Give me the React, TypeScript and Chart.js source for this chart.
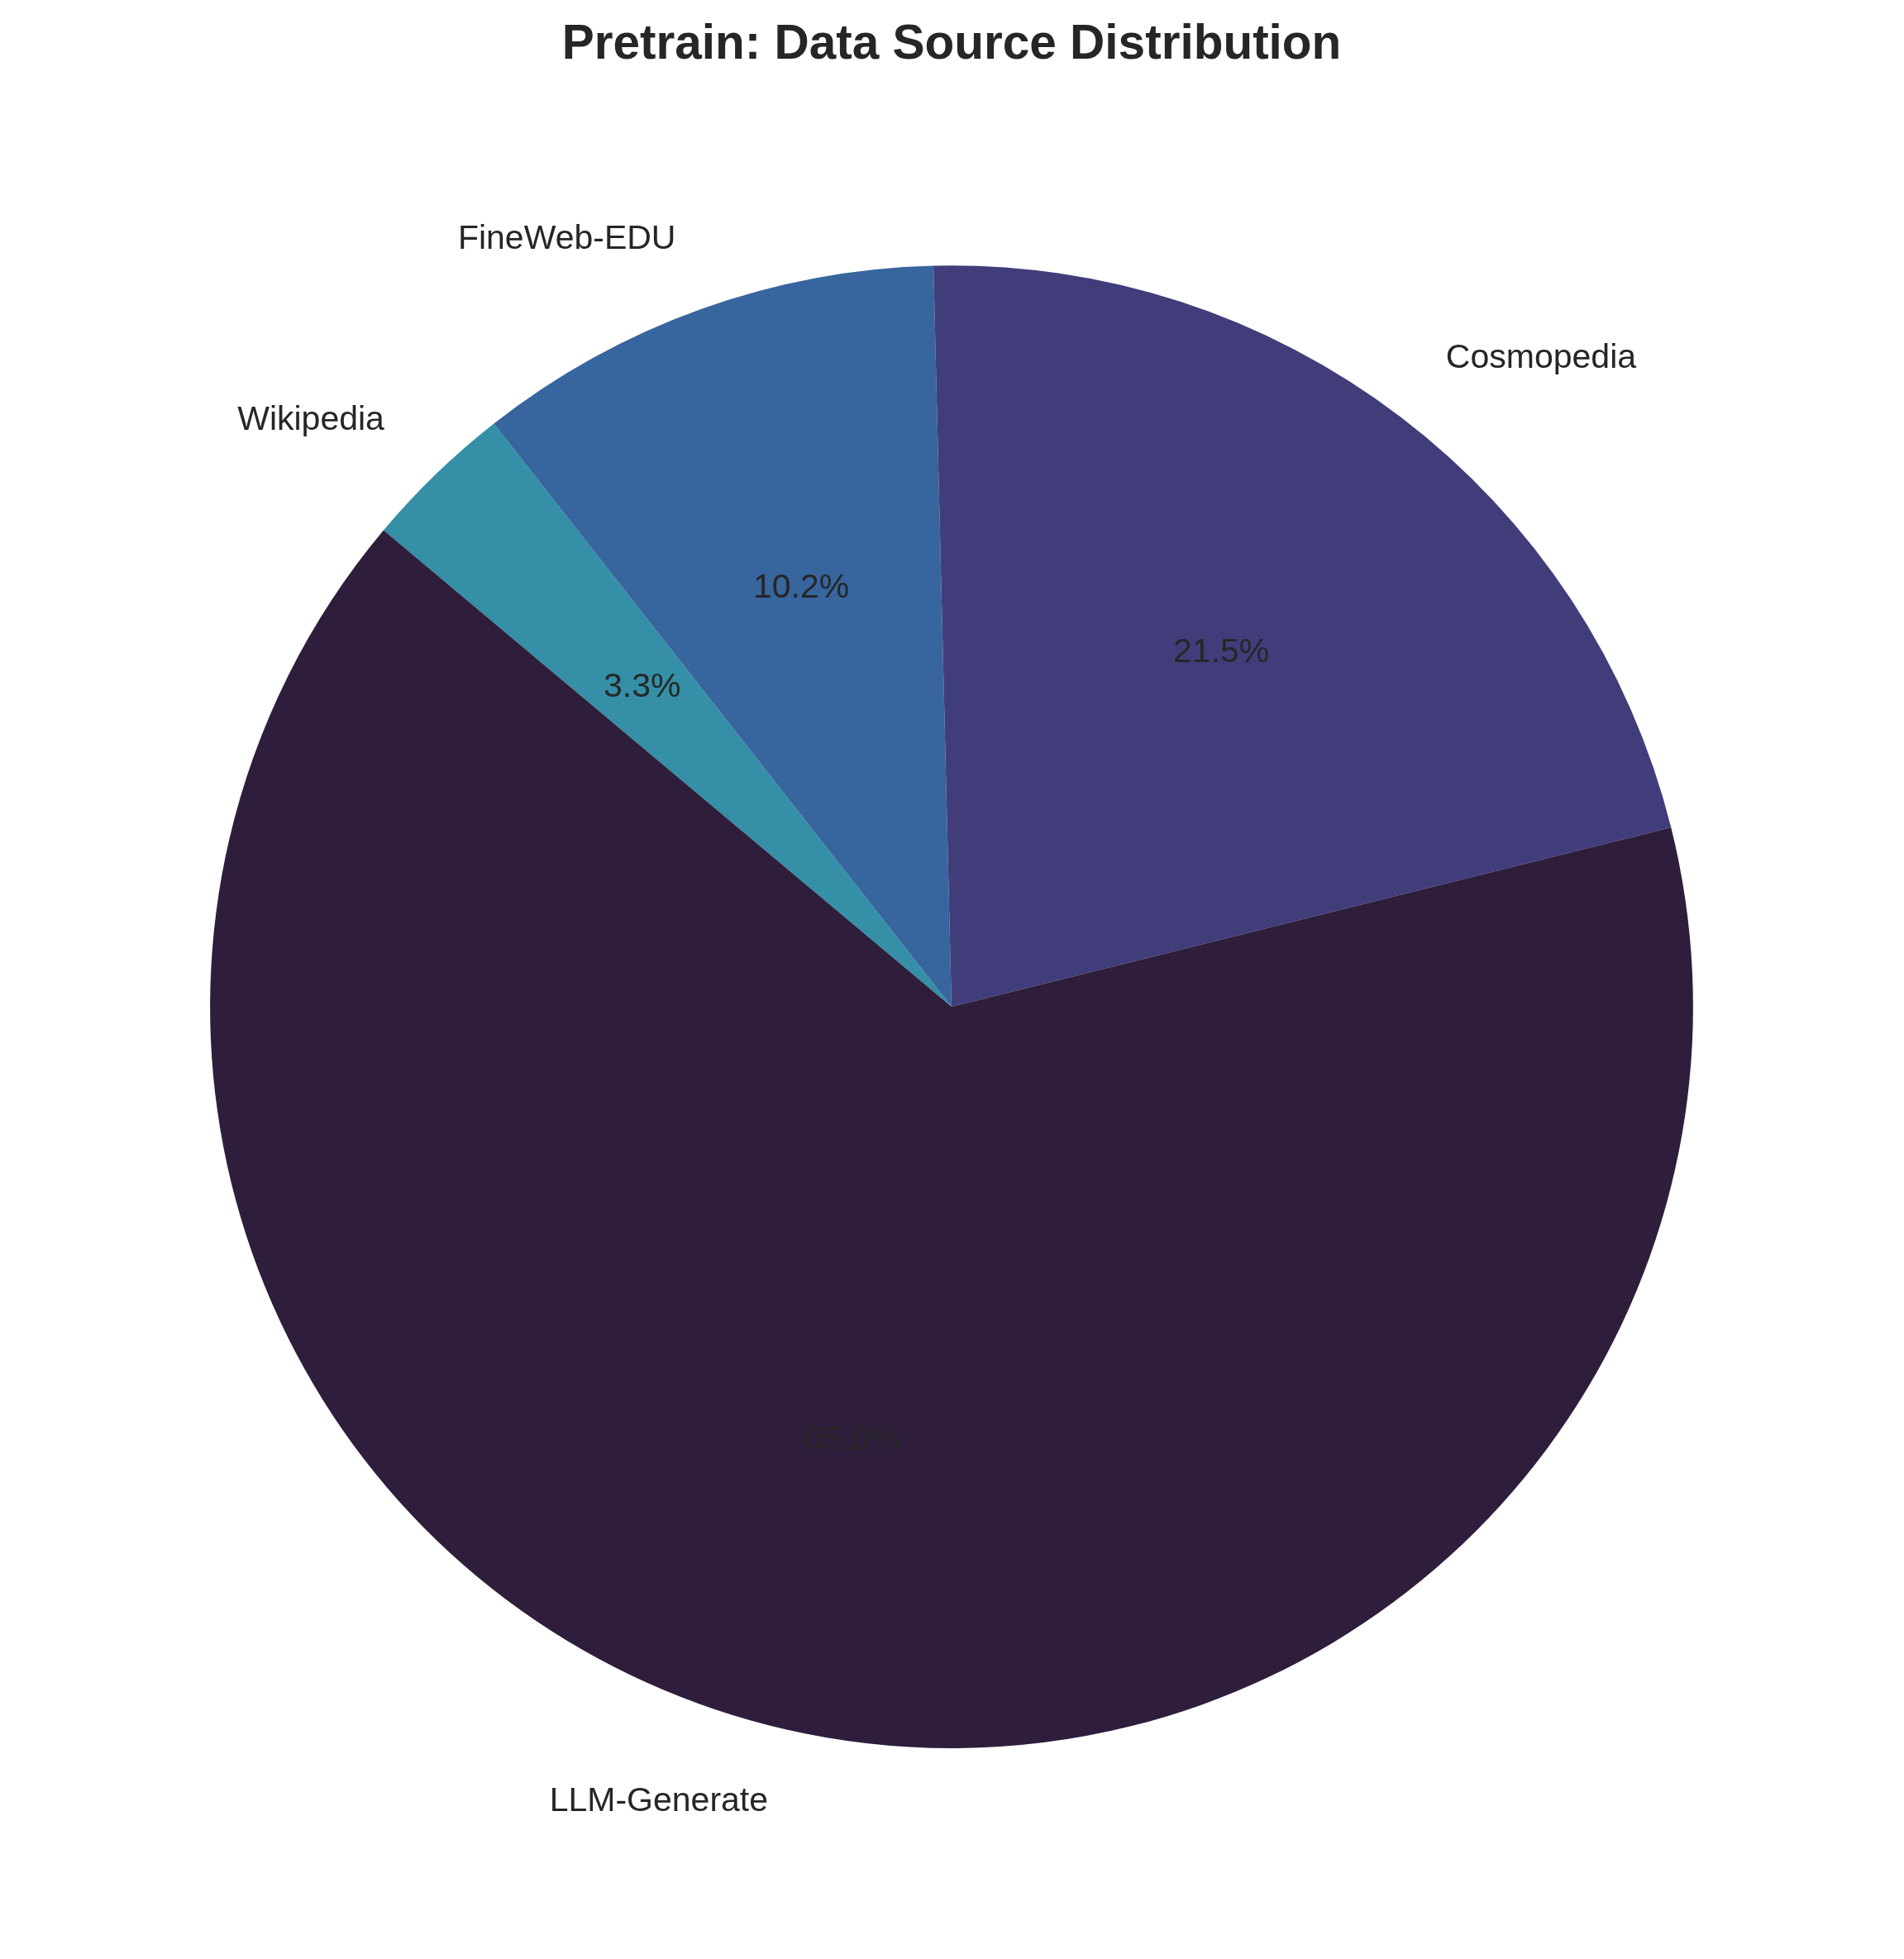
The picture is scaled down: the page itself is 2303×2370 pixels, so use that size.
import { Chart, registerables, type Plugin } from 'chart.js'
import { useEffect, useRef } from 'react'

Chart.register(...registerables)

// data, in matplotlib order (counter-clockwise from 140°)
const sources = ['LLM-Generate', 'Cosmopedia', 'FineWeb-EDU', 'Wikipedia']
const shares = [65.0, 21.5, 10.2, 3.3]
const sliceColors = ['#2e1e3b', '#413d7b', '#37659e', '#348fa7']

const FONT = '"Liberation Sans", Arial, Helvetica, sans-serif'
const TEXT = '#262626'

// Chart.js goes clockwise, so hand it the slices reversed
const drawOrder = sources.map((_, i) => sources.length - 1 - i)

const pieLabels: Plugin<'pie'> = {
  id: 'pieLabels',
  afterDatasetsDraw(chart) {
    const { ctx } = chart
    const meta = chart.getDatasetMeta(0)
    const values = chart.data.datasets[0].data as number[]
    const total = values.reduce((a, b) => a + b, 0)
    ctx.save()
    ctx.font = `41px ${FONT}`
    ctx.fillStyle = TEXT
    ctx.textBaseline = 'middle'
    meta.data.forEach((el, i) => {
      const arc = el as any
      const mid = (arc.startAngle + arc.endAngle) / 2
      const r = arc.outerRadius
      const cx = arc.x
      const cy = arc.y
      const c = Math.cos(mid)
      const s = Math.sin(mid)
      ctx.textAlign = c >= 0 ? 'left' : 'right'
      ctx.fillText(String(chart.data.labels![i]), cx + c * r * 1.1, cy + s * r * 1.1)
      ctx.textAlign = 'center'
      ctx.fillText(`${((values[i] / total) * 100).toFixed(1)}%`, cx + c * r * 0.6, cy + s * r * 0.6)
    })
    ctx.restore()
  },
}

function PieChart() {
  const canvasRef = useRef<HTMLCanvasElement | null>(null)

  useEffect(() => {
    const canvas = canvasRef.current
    if (!canvas) {
      return
    }

    const chart = new Chart(canvas, {
      type: 'pie',
      data: {
        labels: drawOrder.map((i) => sources[i]),
        datasets: [
          {
            data: drawOrder.map((i) => shares[i]),
            backgroundColor: drawOrder.map((i) => sliceColors[i]),
            borderWidth: 0,
          },
        ],
      },
      options: {
        animation: false,
        responsive: true,
        maintainAspectRatio: false,
        rotation: -50,
        layout: {
          padding: { left: 254, right: 255, top: 0, bottom: 255 },
        },
        plugins: {
          legend: { display: false },
          tooltip: { enabled: false },
          title: {
            display: true,
            text: 'Pretrain: Data Source Distribution',
            color: TEXT,
            font: { family: FONT, size: 58.5, weight: 'bold', lineHeight: 1.2 },
            padding: { top: 20, bottom: 231 },
          },
        },
      },
      plugins: [pieLabels],
    })

    return () => {
      chart.destroy()
    }
  }, [])

  return (
    <div style={{ position: 'absolute', left: 0, top: 0, width: 2303, height: 2370, background: '#ffffff' }}>
      <canvas ref={canvasRef} />
    </div>
  )
}

export default function App() {
  return <PieChart />
}
